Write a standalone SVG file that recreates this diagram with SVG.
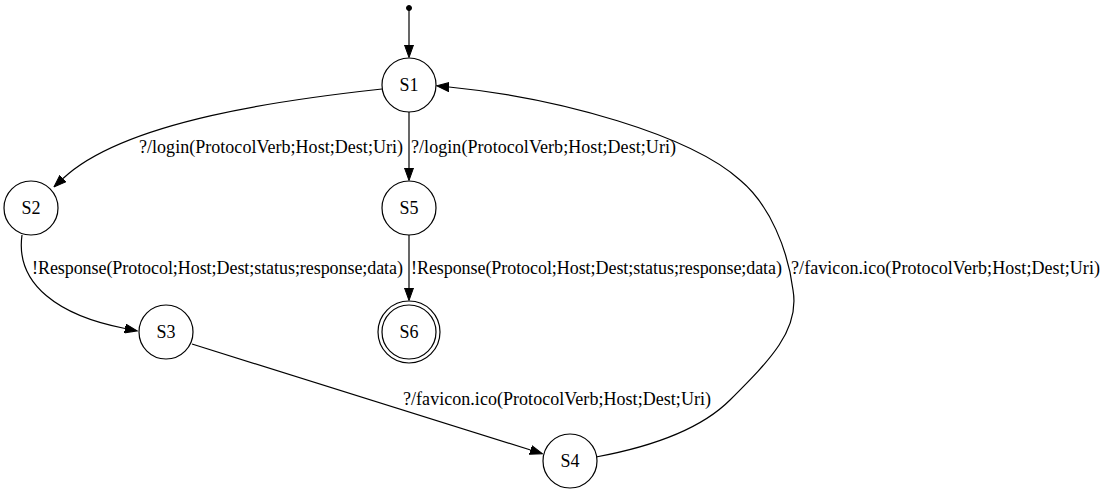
<svg xmlns="http://www.w3.org/2000/svg" width="1106" height="494" viewBox="0 0 1106 494">
<defs>
<style>
.node circle{fill:none;stroke:#000;stroke-width:1.2}
text{font-family:"Liberation Serif","Times New Roman",serif;font-size:18px;fill:#000}
.node text{text-anchor:middle}
.edge path{fill:none;stroke:#000;stroke-width:1.2}
</style>
<marker id="ah" viewBox="0 0 13 10" refX="0" refY="5" markerWidth="13" markerHeight="10" markerUnits="userSpaceOnUse" orient="auto">
<path d="M0,0.5 L12.5,5 L0,9.5 z" fill="#000" stroke="#000" stroke-width="1"/>
</marker>
</defs>
<rect width="1106" height="494" fill="#fff"/>
<g id="init"><circle cx="409" cy="8" r="2.5" fill="#000" stroke="#000"/></g>
<g id="S1" class="node"><circle cx="409" cy="85" r="27"/><text x="409" y="91">S1</text></g>
<g id="S2" class="node"><circle cx="31" cy="208" r="27"/><text x="31" y="214">S2</text></g>
<g id="S5" class="node"><circle cx="409" cy="208" r="27"/><text x="409" y="214">S5</text></g>
<g id="S3" class="node"><circle cx="166" cy="332" r="27"/><text x="166" y="338">S3</text></g>
<g id="S6" class="node"><circle cx="409" cy="332" r="27"/><circle cx="409" cy="332" r="31"/><text x="409" y="338">S6</text></g>
<g id="S4" class="node"><circle cx="570" cy="461" r="27"/><text x="570" y="467">S4</text></g>
<g id="edges" class="edge">
<path d="M409,10 L409,45" marker-end="url(#ah)"/>
<path d="M382,89 C290,99 125,120 63,178.5" marker-end="url(#ah)"/>
<text x="139" y="153" textLength="264" lengthAdjust="spacing">?/login(ProtocolVerb;Host;Dest;Uri)</text>
<path d="M409,112 L409,168" marker-end="url(#ah)"/>
<text x="411" y="153" textLength="265" lengthAdjust="spacing">?/login(ProtocolVerb;Host;Dest;Uri)</text>
<path d="M22,235 C15,285 60,316 125,328.5" marker-end="url(#ah)"/>
<text x="32" y="274" textLength="371" lengthAdjust="spacing">!Response(Protocol;Host;Dest;status;response;data)</text>
<path d="M409,235 L409,288" marker-end="url(#ah)"/>
<text x="411" y="274" textLength="371" lengthAdjust="spacing">!Response(Protocol;Host;Dest;status;response;data)</text>
<path d="M192,344 L530.6,450" marker-end="url(#ah)"/>
<text x="403" y="405" textLength="308" lengthAdjust="spacing">?/favicon.ico(ProtocolVerb;Host;Dest;Uri)</text>
<path d="M596,457 C650,447 700,430 730,400 C770,360 800,330 793,290 C788,250 770,205 740,180 C690,135 560,98 449,87" marker-end="url(#ah)"/>
<text x="791" y="274" textLength="309" lengthAdjust="spacing">?/favicon.ico(ProtocolVerb;Host;Dest;Uri)</text>
</g>
</svg>
